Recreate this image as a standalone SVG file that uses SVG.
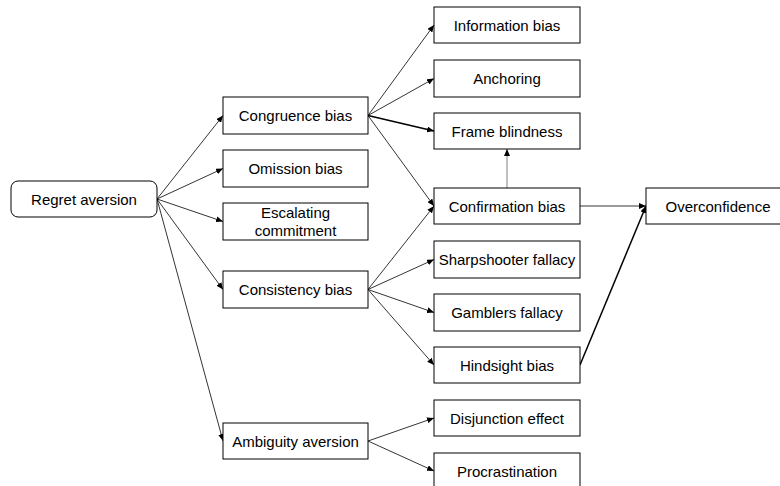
<svg xmlns="http://www.w3.org/2000/svg" width="780" height="486" viewBox="0 0 780 486">
  <style>
    .box { fill: #ffffff; stroke: #000000; stroke-width: 1; }
    .lbl { font-family: "Liberation Sans", Arial, sans-serif; font-size: 15px; fill: #000000; text-anchor: middle; }
    .edge { fill: none; stroke: #000000; stroke-width: 0.8; marker-end: url(#arrow); }
    .edge.bold { stroke-width: 1.5; }
    .edge.grey { stroke: #808080; stroke-width: 1; }
  </style>
  <defs>
    <marker id="arrow" markerUnits="userSpaceOnUse" markerWidth="8" markerHeight="6" refX="7" refY="3" orient="auto">
      <path d="M0,0 L7,3 L0,6 Z" fill="#000000"/>
    </marker>
  </defs>
  <rect width="780" height="486" fill="#ffffff"/>

  <!-- connectors -->
  <g id="connectors">
    <line class="edge" x1="157" y1="199" x2="223" y2="115.5"/>
    <line class="edge" x1="157" y1="199" x2="223" y2="168.5"/>
    <line class="edge" x1="157" y1="199" x2="223" y2="221.5"/>
    <line class="edge" x1="157" y1="199" x2="223" y2="289.5"/>
    <line class="edge" x1="157" y1="199" x2="223" y2="441"/>

    <line class="edge" x1="368" y1="115.5" x2="434" y2="25"/>
    <line class="edge" x1="368" y1="115.5" x2="434" y2="78.5"/>
    <line class="edge bold" x1="368" y1="115.5" x2="434" y2="131"/>
    <line class="edge" x1="368" y1="115.5" x2="434" y2="206"/>

    <line class="edge" x1="368" y1="289.5" x2="434" y2="206"/>
    <line class="edge" x1="368" y1="289.5" x2="434" y2="259.5"/>
    <line class="edge" x1="368" y1="289.5" x2="434" y2="312.5"/>
    <line class="edge" x1="368" y1="289.5" x2="434" y2="365"/>

    <line class="edge" x1="368" y1="441" x2="434" y2="418"/>
    <line class="edge" x1="368" y1="441" x2="434" y2="471"/>

    <line class="edge grey" x1="507" y1="188" x2="507" y2="149"/>
    <line class="edge" x1="580" y1="206" x2="646" y2="206"/>
    <line class="edge bold" x1="580" y1="365" x2="646" y2="206"/>
  </g>

  <!-- nodes -->
  <g id="regret-aversion">
    <rect class="box" x="11" y="181" width="146" height="36" rx="7"/>
    <text class="lbl" x="84" y="204.5">Regret aversion</text>
  </g>
  <g id="congruence-bias">
    <rect class="box" x="223" y="97" width="145" height="37"/>
    <text class="lbl" x="295.5" y="121">Congruence bias</text>
  </g>
  <g id="omission-bias">
    <rect class="box" x="223" y="150" width="145" height="37"/>
    <text class="lbl" x="295.5" y="174">Omission bias</text>
  </g>
  <g id="escalating-commitment">
    <rect class="box" x="223" y="203" width="145" height="37"/>
    <text class="lbl" x="295.5" y="218">Escalating</text>
    <text class="lbl" x="295.5" y="235.5">commitment</text>
  </g>
  <g id="consistency-bias">
    <rect class="box" x="223" y="271" width="145" height="37"/>
    <text class="lbl" x="295.5" y="295">Consistency bias</text>
  </g>
  <g id="ambiguity-aversion">
    <rect class="box" x="223" y="423" width="145" height="36"/>
    <text class="lbl" x="295.5" y="446.5">Ambiguity aversion</text>
  </g>

  <g id="information-bias">
    <rect class="box" x="434" y="7" width="146" height="36"/>
    <text class="lbl" x="507" y="30.5">Information bias</text>
  </g>
  <g id="anchoring">
    <rect class="box" x="434" y="60" width="146" height="37"/>
    <text class="lbl" x="507" y="84">Anchoring</text>
  </g>
  <g id="frame-blindness">
    <rect class="box" x="434" y="113" width="146" height="36"/>
    <text class="lbl" x="507" y="136.5">Frame blindness</text>
  </g>
  <g id="confirmation-bias">
    <rect class="box" x="434" y="188" width="146" height="36"/>
    <text class="lbl" x="507" y="211.5">Confirmation bias</text>
  </g>
  <g id="sharpshooter-fallacy">
    <rect class="box" x="434" y="241" width="146" height="37"/>
    <text class="lbl" x="507" y="265">Sharpshooter fallacy</text>
  </g>
  <g id="gamblers-fallacy">
    <rect class="box" x="434" y="294" width="146" height="37"/>
    <text class="lbl" x="507" y="318">Gamblers fallacy</text>
  </g>
  <g id="hindsight-bias">
    <rect class="box" x="434" y="347" width="146" height="36"/>
    <text class="lbl" x="507" y="370.5">Hindsight bias</text>
  </g>
  <g id="disjunction-effect">
    <rect class="box" x="434" y="400" width="146" height="36"/>
    <text class="lbl" x="507" y="423.5">Disjunction effect</text>
  </g>
  <g id="procrastination">
    <rect class="box" x="434" y="453" width="146" height="37"/>
    <text class="lbl" x="507" y="476.5">Procrastination</text>
  </g>

  <g id="overconfidence">
    <rect class="box" x="646" y="188" width="146" height="36"/>
    <text class="lbl" x="718" y="211.5">Overconfidence</text>
  </g>
</svg>
